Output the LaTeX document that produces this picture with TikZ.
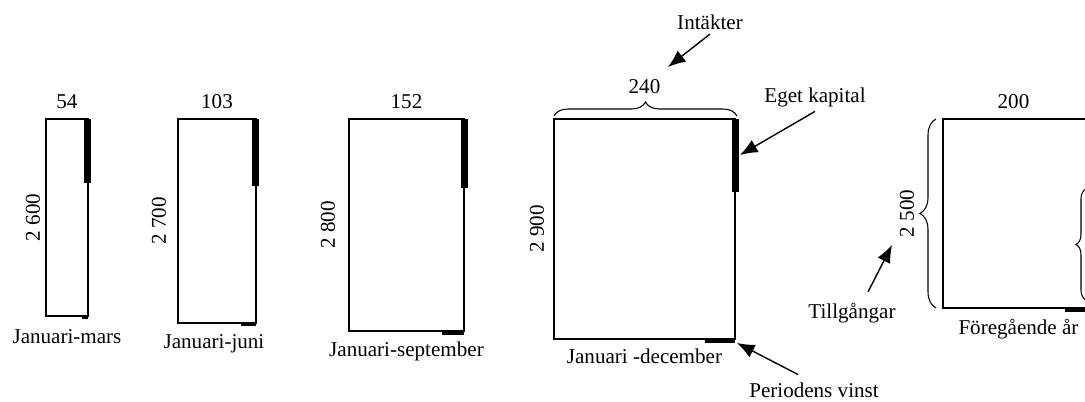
\documentclass[tikz,border=0pt]{standalone}
\usepackage{fontspec}
\setmainfont{Liberation Serif}
\usetikzlibrary{arrows.meta, positioning, decorations.pathreplacing}

\begin{document}
\begin{tikzpicture}[
      x=0.02cm, y=-0.02cm,
      font=\fontsize{12}{14}\selectfont,
      konto/.style={draw, line width=1pt, inner sep=0pt, outer sep=0pt,
                    anchor=north west},
      belopp/.style={inner sep=0pt},
      hojd/.style={inner sep=0pt, rotate=90},
      period/.style={inner sep=0pt, anchor=base},
      etikett/.style={inner sep=2pt, anchor=base},
      pil/.style={-{Latex[length=10pt,width=8pt]}, line width=0.8pt},
      klammer/.style={decorate, decoration={brace, amplitude=#1},
                      line width=0.6pt}
    ]
    \useasboundingbox (0,0) rectangle (1085,402);
    \clip (0,0) rectangle (1085,402);

    % balansrakningarna
    \node[konto, minimum width=0.84cm, minimum height=3.94cm] (jm) at (46,119) {};
    \node[konto, minimum width=1.56cm, minimum height=4.08cm] (jj) at (178,119) {};
    \node[konto, minimum width=2.30cm, minimum height=4.24cm] (js) at (349,119) {};
    \node[konto, minimum width=3.62cm, minimum height=4.40cm] (jd) at (554,119) {};
    \node[konto, minimum width=3.02cm, minimum height=3.78cm] (fa) at (943,119) {};

    % eget kapital
    \fill ([shift={(-4,0)}]jm.north east) rectangle ([shift={(3,64)}]jm.north east);
    \fill ([shift={(-4,0)}]jj.north east) rectangle ([shift={(3,67)}]jj.north east);
    \fill ([shift={(-3,0)}]js.north east) rectangle ([shift={(4,69)}]js.north east);
    \fill ([shift={(-3,0)}]jd.north east) rectangle ([shift={(4,73)}]jd.north east);

    % periodens vinst
    \fill ([shift={(-6,-1)}]jm.south east) rectangle ([shift={(0,3)}]jm.south east);
    \fill ([shift={(-15,-1)}]jj.south east) rectangle ([shift={(0,3)}]jj.south east);
    \fill ([shift={(-22,-1)}]js.south east) rectangle ([shift={(0,4)}]js.south east);
    \fill ([shift={(-30,-1)}]jd.south east) rectangle ([shift={(0,4)}]jd.south east);
    \fill ([shift={(-29,-1)}]fa.south east) rectangle ([shift={(0,4)}]fa.south east);

    % belopp
    \node[belopp, above=0.2cm of jm] {54};
    \node[belopp, above=0.2cm of jj] {103};
    \node[belopp, above=0.2cm of js] {152};
    \node[belopp, above=0.5cm of jd] {240};
    \node[belopp, above=0.2cm of fa, xshift=-0.1cm] {200};

    \node[hojd] at ([shift={(-13,0)}]jm.west) {2 600};
    \node[hojd] at ([shift={(-19,0)}]jj.west) {2 700};
    \node[hojd] at ([shift={(-21,0)}]js.west) {2 800};
    \node[hojd] at ([shift={(-17,0)}]jd.west) {2 900};
    \node[hojd] at ([shift={(-36,0)}]fa.west) {2 500};

    \node[period] at ([shift={(0,28)}]jm.south) {Januari-mars};
    \node[period] at ([shift={(-3,26)}]jj.south) {Januari-juni};
    \node[period] at ([shift={(0,26)}]js.south) {Januari-september};
    \node[period] at ([shift={(0,25)}]jd.south) {Januari -december};
    \node[period] at ([shift={(0,27)}]fa.south) {Föregående år};

    % klammer
    \draw[klammer=0.28cm] ([shift={(0,-3)}]jd.north west) -- ([shift={(2,-3)}]jd.north east);
    \draw[klammer=0.32cm] ([shift={(-7,0)}]fa.south west) -- ([shift={(-7,0)}]fa.north west);
    \draw[klammer=0.2cm] ([shift={(-8,181)}]fa.north east) -- ([shift={(-8,70)}]fa.north east);

    % forklaringar
    \node[etikett] (intakt) at (710,30) {Intäkter};
    \node[etikett] (ekap) at (815,103) {Eget kapital};
    \node[etikett] (tillg) at (852,318) {Tillgångar};
    \node[etikett] (vinst) at (814,397) {Periodens vinst};

    \coordinate (intaktpil) at (668,67);
    \coordinate (tillgpil) at (892,245);

    \draw[pil] (intakt.south) -- (intaktpil);
    \draw[pil] (ekap.south) -- ([shift={(5,36)}]jd.north east);
    \draw[pil] ([shift={(16,-7)}]tillg.north) -- (tillgpil);
    \draw[pil] ([shift={(-16,-4)}]vinst.north) -- ([shift={(2,4)}]jd.south east);
  \end{tikzpicture}
\end{document}
